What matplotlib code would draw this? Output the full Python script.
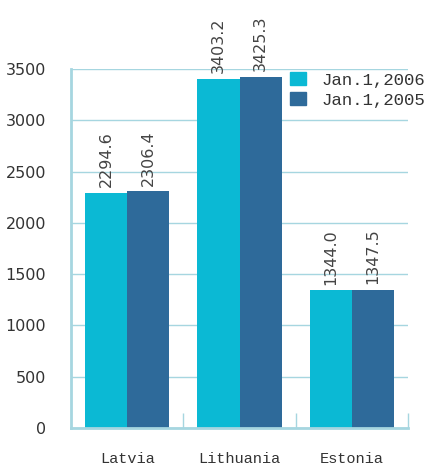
import matplotlib
matplotlib.use('Agg')
import matplotlib.pyplot as plt
from matplotlib.patches import Patch
import numpy as np

countries = ['Latvia', 'Lithuania', 'Estonia']
pop_2006 = [2294.6, 3403.2, 1344.0]
pop_2005 = [2306.4, 3425.3, 1347.5]
series_labels = ['Jan.1,2006', 'Jan.1,2005']
yticks = [0, 500, 1000, 1500, 2000, 2500, 3000, 3500]

c_2006 = '#0BB9D4'
c_2005 = '#2E6A9A'
line_c = '#A6D6E0'
text_c = '#333333'

fig = plt.figure(figsize=(4.3, 4.66), dpi=100)
ax = fig.add_axes([71/430, 1 - 428/466, 337/430, 359/466])

x = np.arange(len(countries))
w = 0.375
ax.bar(x - w/2, pop_2006, width=w, color=c_2006, zorder=2)
ax.bar(x + w/2, pop_2005, width=w, color=c_2005, zorder=2)

# value labels, rotated, just above each bar
for xs, vals in [(x - w/2, pop_2006), (x + w/2, pop_2005)]:
    for xi, v in zip(xs, vals):
        ax.text(xi, v + 55, f'{v:.1f}', rotation=90, ha='center', va='bottom',
                fontsize=11.5, color='#444444', clip_on=False, zorder=3)

ax.set_xlim(-0.5, 2.5)
ax.set_ylim(0, 3500)
ax.set_yticks(yticks)
ax.set_yticklabels([str(t) for t in yticks], fontsize=11.5, color=text_c)
ax.yaxis.grid(True, color=line_c, linewidth=1, zorder=0)
ax.set_axisbelow(True)
ax.tick_params(axis='y', length=0, pad=18)

ax.set_xticks(x)
ax.set_xticklabels(countries, family='Liberation Mono', fontsize=11, color=text_c)
ax.set_xticks([0.5, 1.5, 2.5], minor=True)
ax.tick_params(axis='x', which='major', length=0, pad=17)
ax.tick_params(axis='x', which='minor', direction='in', length=11, color=line_c, width=1)

for s in ['top', 'right']:
    ax.spines[s].set_visible(False)
for s in ['left', 'bottom']:
    ax.spines[s].set_color(line_c)
    ax.spines[s].set_linewidth(2)

handles = [Patch(color=c_2006), Patch(color=c_2005)]
ax.legend(handles, series_labels, loc='upper left', bbox_to_anchor=(290/430, 1 - 72/466),
          bbox_transform=fig.transFigure, frameon=False, prop={'family': 'Liberation Mono', 'size': 12.5},
          handlelength=0.9, handleheight=0.8, handletextpad=0.9, labelspacing=0.25,
          borderaxespad=0, borderpad=0, labelcolor=text_c)

fig.savefig('out.png', dpi=100)
